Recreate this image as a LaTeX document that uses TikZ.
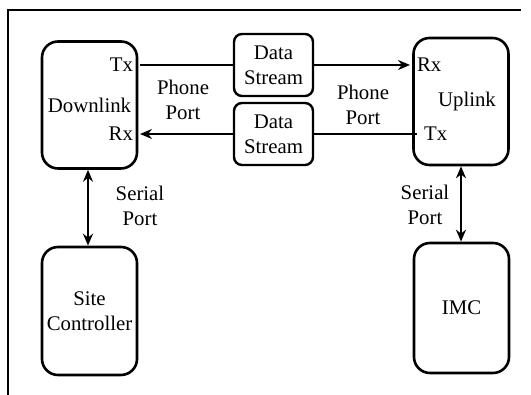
\documentclass[tikz,border=0pt]{standalone}
\usepackage{fontspec}
\setmainfont{Liberation Serif}
\usepackage{tikz}
\usetikzlibrary{arrows.meta}

\tikzset{
  unitbox/.style={draw, line width=1.3pt, rounded corners=8pt, minimum width=47.5pt, minimum height=63.5pt, align=center, inner sep=1pt},
  streambox/.style={draw, line width=1.2pt, rounded corners=4pt, minimum width=39.5pt, minimum height=31pt, align=center, inner sep=1pt},
  link/.style={line width=1.2pt},
  sig/.style={line width=1.2pt, -{Stealth[length=6pt,width=5pt]}},
  both/.style={line width=1.2pt, {Stealth[length=6pt,width=5pt]}-{Stealth[length=6pt,width=5pt]}},
  txt/.style={align=center}
}

\begin{document}
\begin{tikzpicture}[x=0.5pt,y=0.5pt,font=\fontsize{10.4}{12.5}\selectfont]
		\useasboundingbox (0,0) rectangle (531,395);

		% Frame
		\draw[line width=1.2pt] (521,385) -- (8,385) -- (8,0);

		% Units
		\node[unitbox] (down) at (89.5,290) {Downlink};
		\node[unitbox] (up) at (461,293.5) {\hspace*{6pt}Uplink};
		\node[unitbox, minimum height=64pt] (site) at (89.5,84) {Site\\Controller};
		\node[unitbox, minimum height=65pt] (imc) at (461.5,87) {IMC};

		% Data streams
		\node[streambox] (ds1) at (273.5,330) {Data\\Stream};
		\node[streambox] (ds2) at (273.5,261) {Data\\Stream};

		% Port names
		\node[anchor=east] (dtx) at (140,330) {Tx};
		\node[anchor=east] (drx) at (140,261) {Rx};
		\node[anchor=west] (urx) at (410,330) {Rx};
		\node[anchor=west] (utx) at (417,261) {Tx};

		% Phone lines
		\draw[link] (dtx.east) -- (ds1.west);
		\draw[sig] (ds1.east) -- (urx.west);
		\draw[link] (utx.west) -- (ds2.east);
		\draw[sig] (ds2.west) -- (drx.east);
		\node[txt] (pp1) at (183,295) {Phone\\Port};
		\node[txt] (pp2) at (363,290.5) {Phone\\Port};

		% Serial lines
		\draw[both] ([xshift=-0.75pt]down.south) -- ([xshift=-0.75pt]site.north);
		\draw[both] (up.south) -- (up.south |- imc.north);
		\node[txt] (sp1) at (140,189) {Serial\\Port};
		\node[txt] (sp2) at (425,190.5) {Serial\\Port};
	\end{tikzpicture}
\end{document}
